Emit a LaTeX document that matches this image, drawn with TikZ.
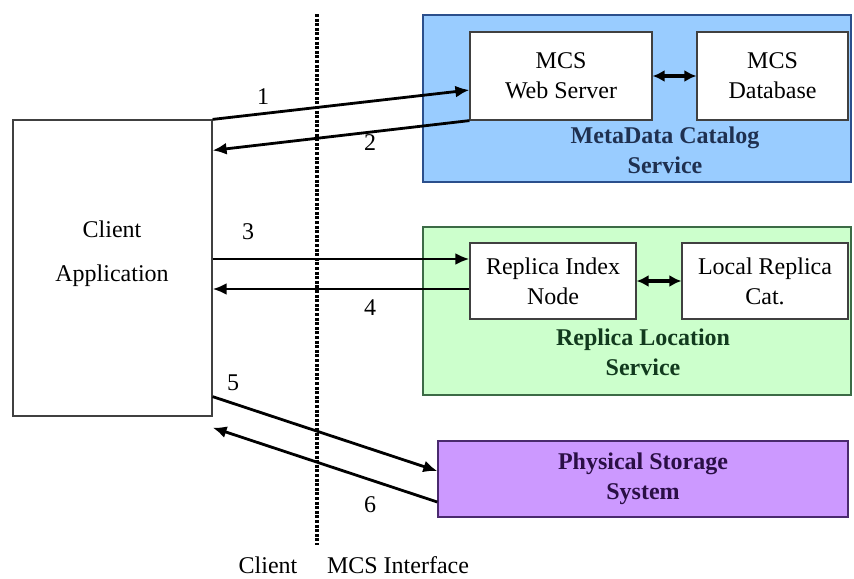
\documentclass[tikz,border=0pt]{standalone}
\usepackage{fontspec}
\setmainfont{Liberation Serif}
\usetikzlibrary{arrows.meta}
\definecolor{mcsfill}{HTML}{99CCFF}
\definecolor{mcsline}{HTML}{2B4F8C}
\definecolor{mcstext}{HTML}{1F3050}
\definecolor{rlsfill}{HTML}{CCFFCC}
\definecolor{rlsline}{HTML}{3C6B46}
\definecolor{rlstext}{HTML}{123A1E}
\definecolor{pssfill}{HTML}{CC99FF}
\definecolor{pssline}{HTML}{4A2A6E}
\definecolor{psstext}{HTML}{2A0F45}

\tikzset{
  txt/.style={font=\fontsize{12}{15}\selectfont, align=center, inner sep=0pt},
  box/.style={txt, draw=black!75, fill=white, line width=0.6pt},
  svc/.style={draw=#1line, fill=#1fill, line width=0.7pt, inner sep=0pt},
  svclbl/.style={txt, font=\fontsize{12}{15}\selectfont\bfseries, text=#1text},
  flow/.style={line width=1.4pt, -{Latex[length=7pt,width=6pt]}},
  both/.style={line width=1.6pt, {Latex[length=6pt,width=6pt]}-{Latex[length=6pt,width=6pt]}}
}

\begin{document}
\begin{tikzpicture}[x=0.5pt, y=-0.5pt]
  \useasboundingbox (0,0) rectangle (854,578);

  % Client side
  \node[box, minimum width=99.5pt, minimum height=148pt] (client) at (112.5,268) {};
  \node[txt] (clientlbl) at (112,254) {Client\\[7pt]Application};

  % separation line
  \coordinate (septop) at (317,14);
  \coordinate (sepbot) at (317,545);
  \draw[line width=1.8pt, dash pattern=on 1.5pt off 0.8pt] (septop) -- (sepbot);
  \node[txt] (clientside) at (268,565) {Client};
  \node[txt] (mcsside) at (398,565) {MCS Interface};

  % MetaData Catalog Service
  \node[svc=mcs, minimum width=214pt, minimum height=83.5pt] (mcs) at (637,98.5) {};
  \node[box, minimum width=91pt, minimum height=44pt] (web) at (561,76) {MCS\\Web Server};
  \node[box, minimum width=75.5pt, minimum height=44pt] (db) at (772.5,76) {MCS\\Database};
  \node[svclbl=mcs] (mcslbl) at (665,150) {MetaData Catalog\\Service};
  \draw[both] (web) -- (db);

  % Replica Location Service
  \node[svc=rls, minimum width=214pt, minimum height=84pt] (rls) at (637,311) {};
  \node[box, minimum width=83pt, minimum height=38pt] (rin) at (553,281) {Replica Index\\Node};
  \node[box, minimum width=83pt, minimum height=38pt] (lrc) at (765,281) {Local Replica\\Cat.};
  \node[svclbl=rls] (rlslbl) at (643,352) {Replica Location\\Service};
  \draw[both] (rin) -- (lrc);

  % Physical Storage System
  \node[svc=pss, minimum width=205pt, minimum height=38pt, svclbl=pss] (pss) at (643,479) {Physical Storage\\System};

  % requests and replies
  \draw[flow] (client.north east) -- ([yshift=-7pt]web.west);
  \draw[flow] (web.south west) -- ([yshift=-15.5pt]client.north east);
  \draw[flow] ([yshift=4.5pt]client.east) -- ([yshift=11pt]rin.west);
  \draw[flow] ([yshift=-4pt]rin.west) -- ([yshift=-10.5pt]client.east);
  \draw[flow] ([yshift=10pt]client.south east) -- ([yshift=4pt]pss.west);
  \draw[flow] ([yshift=-11.5pt]pss.west) -- ([yshift=-5.5pt]client.south east);

  \node[txt] (n1) at (263,97) {1};
  \node[txt] (n2) at (370,143) {2};
  \node[txt] (n3) at (248,232) {3};
  \node[txt] (n4) at (370,308) {4};
  \node[txt] (n5) at (233,383) {5};
  \node[txt] (n6) at (370,505) {6};
\end{tikzpicture}
\end{document}
